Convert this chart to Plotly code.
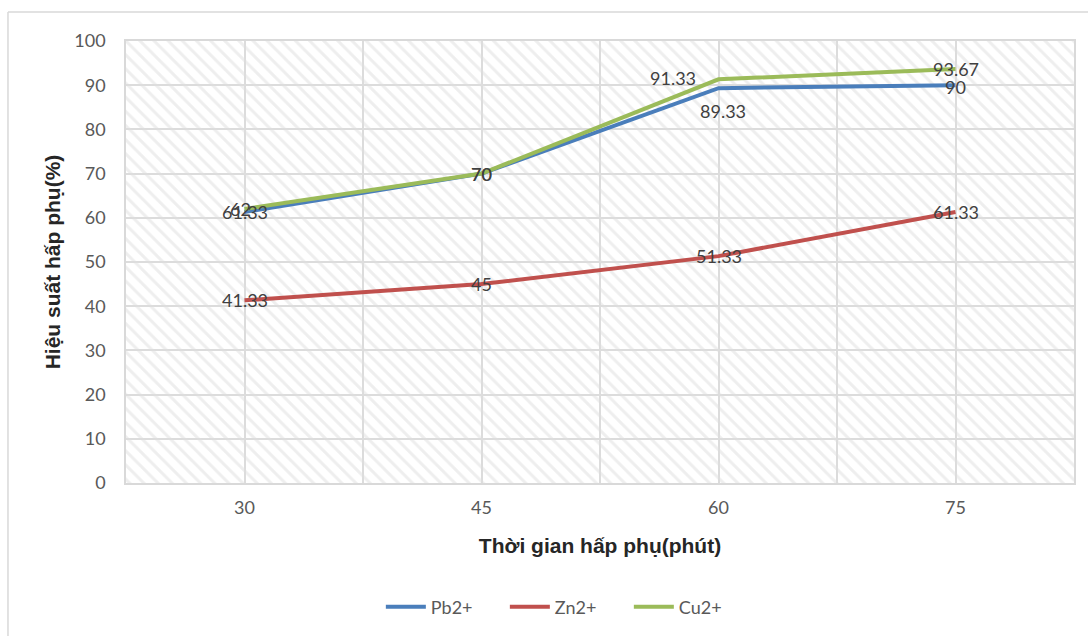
import plotly.graph_objects as go

# Adsorption time (minutes) and adsorption efficiency (%) per metal ion
time_min = [30, 45, 60, 75]
pb_values = [61.33, 70, 89.33, 90]
zn_values = [41.33, 45, 51.33, 61.33]
cu_values = [62, 70, 91.33, 93.67]

Y_MAX = 100

# Label offsets (px) for data labels that sit beside their point
series = [
    ("Pb2+", pb_values, "#4a7ebb", [(0, 0), (0, 0), (4, -23), (0, -2)]),
    ("Zn2+", zn_values, "#c0504d", [(0, 0), (0, 0), (0, 0), (0, 0)]),
    ("Cu2+", cu_values, "#9bbb59", [(-4, 0), (0, 0), (-46, 1), (0, 0)]),
]

LABEL_FONT = dict(family="Lato", size=18, color="#404040")
TICK_FONT = dict(family="Lato", size=18, color="#595959")
TITLE_FONT = dict(family="Liberation Sans", size=21, color="#262626")

half_step = (time_min[1] - time_min[0]) / 2
boundaries = [time_min[0] - half_step] + [t + half_step for t in time_min]

fig = go.Figure()

# Hatched plot-area background covering the full axis ranges
fig.add_trace(go.Bar(
    x=[(boundaries[0] + boundaries[-1]) / 2], y=[Y_MAX],
    width=[boundaries[-1] - boundaries[0]],
    marker=dict(
        color="rgba(255,255,255,0)",
        line=dict(width=0),
        pattern=dict(shape="\\", size=10, solidity=0.3,
                     fgcolor="#dedede", bgcolor="rgba(255,255,255,0)"),
    ),
    hoverinfo="skip", showlegend=False,
))

annotations = []
for name, values, color, offsets in series:
    fig.add_trace(go.Scatter(
        x=time_min, y=values, name=name,
        mode="lines",
        line=dict(color=color, width=4),
    ))
    for t, v, (dx, dy) in zip(time_min, values, offsets):
        annotations.append(dict(
            x=t, y=v, text=f"{v:g}", showarrow=False,
            xshift=dx, yshift=dy, font=LABEL_FONT,
        ))

fig.update_layout(
    width=1088, height=636,
    margin=dict(l=126, r=14, t=41, b=153),
    paper_bgcolor="white",
    plot_bgcolor="white",
    showlegend=True,
    annotations=annotations,
    legend=dict(
        orientation="h",
        xref="container", yref="container",
        x=0.521, xanchor="center", y=0.0456, yanchor="middle",
        font=dict(family="Lato", size=18, color="#595959"),
        entrywidth=69, itemwidth=40,
    ),
    xaxis=dict(
        range=[boundaries[0], boundaries[-1]], automargin=False,
        tickvals=time_min, ticktext=[str(t) for t in time_min],
        tickfont=TICK_FONT, ticks="", ticklabelstandoff=8,
        showgrid=True, gridcolor="#dcdcdc", gridwidth=1.5,
        minor=dict(tickvals=boundaries, showgrid=True, gridcolor="#dcdcdc", gridwidth=1.5),
        showline=True, linecolor="#d9d9d9", linewidth=1.5, mirror=True,
        zeroline=False,
        title=dict(text="<b>Thời gian hấp phụ(phút)</b>", font=TITLE_FONT, standoff=21),
    ),
    yaxis=dict(
        range=[0, Y_MAX], dtick=10, automargin=False,
        tickfont=TICK_FONT, ticks="", ticklabelstandoff=15,
        showgrid=True, gridcolor="#dcdcdc", gridwidth=1.5,
        showline=True, linecolor="#d9d9d9", linewidth=1.5, mirror=True,
        zeroline=False,
        title=dict(text="<b>Hiệu suất hấp phụ(%)</b>", font=TITLE_FONT, standoff=8),
    ),
    bargap=0,
    shapes=[
        # Chart-area frame (top and left edges)
        dict(type="line", xref="paper", yref="paper",
             x0=-0.1245, x1=1.02, y0=1.0656, y1=1.0656,
             line=dict(color="#d9d9d9", width=1.5)),
        dict(type="line", xref="paper", yref="paper",
             x0=-0.1245, x1=-0.1245, y0=1.0656, y1=-0.36,
             line=dict(color="#d9d9d9", width=1.5)),
    ],
)

fig.write_html("out.html")
